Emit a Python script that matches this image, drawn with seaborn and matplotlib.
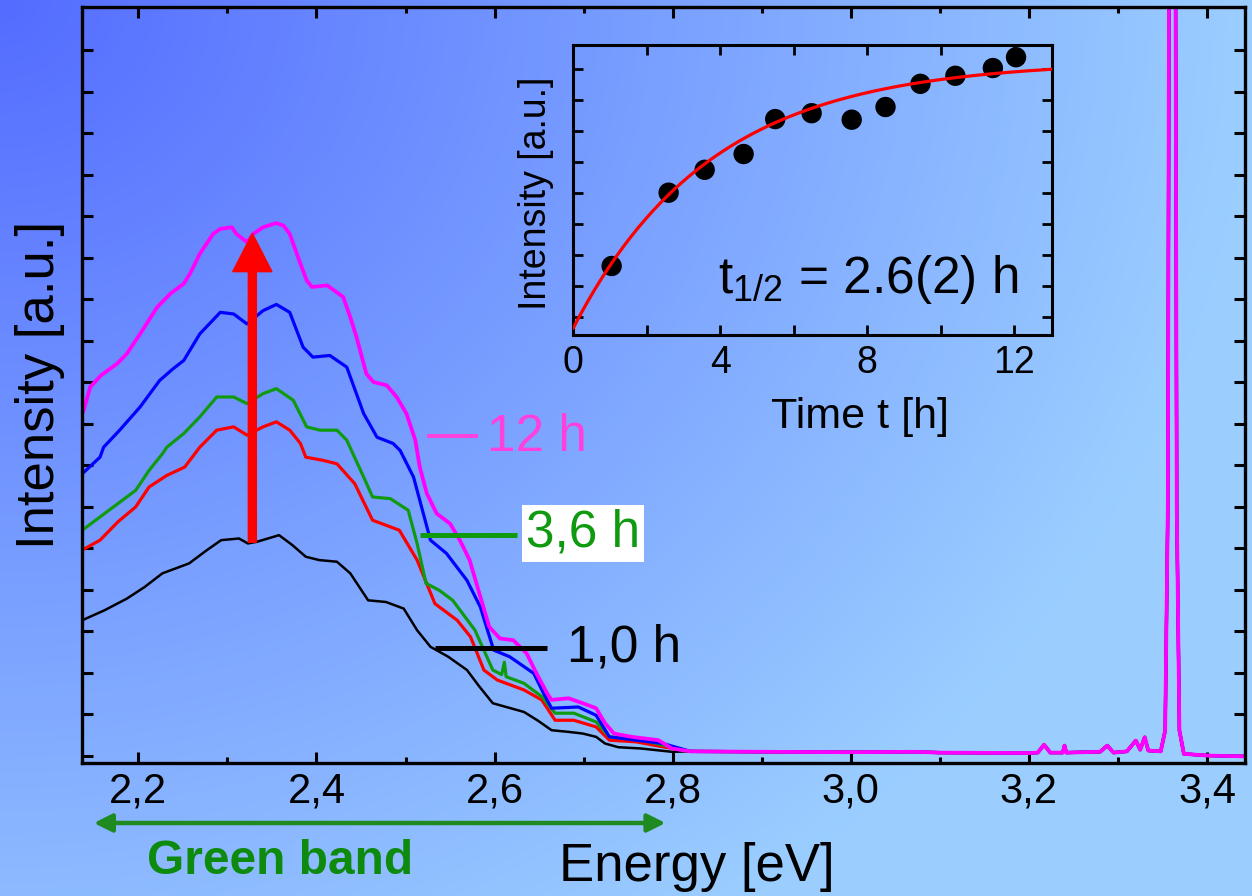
import numpy as np
import matplotlib
matplotlib.use("Agg")
import matplotlib.pyplot as plt
import matplotlib.transforms as mtransforms
from matplotlib.ticker import MultipleLocator
import seaborn as sns

# ---- photoluminescence spectra (energy in eV, intensity in arbitrary units) ----
black_e = [2.137, 2.162, 2.187, 2.207, 2.227, 2.257, 2.277, 2.293, 2.313, 2.323, 2.333,
           2.358, 2.373, 2.388, 2.403, 2.423, 2.438, 2.458, 2.478, 2.498, 2.513, 2.528,
           2.548, 2.569, 2.583, 2.598, 2.613, 2.633, 2.648, 2.664, 2.683, 2.699, 2.714,
           2.724, 2.739, 2.764, 2.799]
black_i = [3.26, 3.50, 3.78, 4.06, 4.39, 4.63, 4.95, 5.19, 5.23, 5.11, 5.15,
           5.31, 5.07, 4.79, 4.71, 4.67, 4.39, 3.74, 3.70, 3.54, 3.02, 2.62,
           2.38, 2.06, 1.66, 1.26, 1.17, 1.05, 0.85, 0.61, 0.57, 0.53, 0.45,
           0.29, 0.20, 0.17, 0.09]

red_e = [2.137, 2.157, 2.177, 2.197, 2.212, 2.232, 2.252, 2.269, 2.288, 2.307, 2.322,
         2.340, 2.355, 2.370, 2.382, 2.388, 2.408, 2.423, 2.443, 2.463, 2.478, 2.493,
         2.513, 2.533, 2.558, 2.573, 2.588, 2.603, 2.633, 2.653, 2.668, 2.689, 2.714,
         2.729, 2.759, 2.789]
red_i = [4.95, 5.19, 5.63, 5.99, 6.47, 6.75, 6.95, 7.43, 7.84, 7.92, 7.72,
         7.92, 8.04, 7.84, 7.52, 7.19, 7.11, 7.03, 6.55, 5.67, 5.55, 5.43,
         4.71, 3.66, 3.26, 2.86, 2.06, 1.82, 1.58, 1.34, 0.85, 0.85, 0.69,
         0.37, 0.33, 0.21]

green_e = [2.137, 2.157, 2.177, 2.197, 2.212, 2.227, 2.232, 2.251, 2.269, 2.288, 2.307,
           2.322, 2.340, 2.355, 2.374, 2.389, 2.404, 2.423, 2.434, 2.453, 2.463, 2.483,
           2.503, 2.513, 2.523, 2.538, 2.553, 2.578, 2.598, 2.608, 2.611, 2.613, 2.633,
           2.653, 2.668, 2.689, 2.714, 2.729, 2.759, 2.789]
green_i = [5.43, 5.75, 6.07, 6.39, 6.87, 7.27, 7.43, 7.76, 8.16, 8.64, 8.64,
           8.48, 8.72, 8.84, 8.56, 7.92, 7.84, 7.84, 7.60, 6.71, 6.23, 6.19,
           5.91, 5.11, 4.15, 3.98, 3.74, 3.02, 2.06, 1.95, 2.25, 1.90, 1.74,
           1.42, 1.02, 1.02, 0.81, 0.45, 0.41, 0.25]

blue_e = [2.137, 2.157, 2.161, 2.179, 2.202, 2.224, 2.239, 2.251, 2.269, 2.292, 2.307,
          2.322, 2.340, 2.355, 2.370, 2.385, 2.396, 2.415, 2.434, 2.453, 2.468, 2.486,
          2.494, 2.509, 2.528, 2.546, 2.569, 2.584, 2.599, 2.617, 2.644, 2.655, 2.664,
          2.694, 2.714, 2.729, 2.759, 2.789]
blue_i = [6.79, 7.19, 7.43, 7.84, 8.40, 9.04, 9.32, 9.52, 10.16, 10.68, 10.64,
          10.40, 10.72, 10.87, 10.68, 9.84, 9.60, 9.64, 9.36, 8.24, 7.67, 7.52,
          7.35, 6.71, 5.19, 4.87, 4.22, 3.58, 2.54, 2.38, 1.98, 1.50, 1.14,
          1.17, 0.97, 0.45, 0.37, 0.29]

magenta_e = [2.138, 2.146, 2.158, 2.176, 2.187, 2.202, 2.221, 2.236, 2.251, 2.258, 2.269,
             2.284, 2.292, 2.305, 2.310, 2.322, 2.329, 2.340, 2.355, 2.363, 2.370, 2.382,
             2.389, 2.395, 2.412, 2.430, 2.438, 2.445, 2.456, 2.464, 2.479, 2.490, 2.501,
             2.511, 2.516, 2.524, 2.535, 2.550, 2.561, 2.572, 2.583, 2.594, 2.606, 2.621,
             2.636, 2.647, 2.659, 2.664, 2.683, 2.699, 2.714, 2.724, 2.734, 2.754, 2.784,
             2.799]
magenta_i = [8.28, 8.88, 9.16, 9.44, 9.68, 10.16, 10.80, 11.13, 11.37, 11.61, 12.09,
             12.57, 12.69, 12.73, 12.57, 12.37, 12.57, 12.73, 12.83, 12.77, 12.57, 11.85,
             11.45, 11.29, 11.33, 11.05, 10.56, 10.08, 9.20, 9.00, 8.92, 8.64, 8.24,
             7.60, 6.95, 6.31, 5.83, 5.59, 5.19, 4.71, 3.90, 3.10, 2.82, 2.78,
             2.46, 1.98, 1.50, 1.34, 1.38, 1.26, 1.14, 0.78, 0.53, 0.45, 0.37,
             0.17]

# common high-energy part: flat background, weak lines and the band-edge peak
tail_e = [2.820, 2.900, 3.000, 3.070, 3.100, 3.200, 3.210, 3.217, 3.224, 3.238, 3.240,
          3.242, 3.280, 3.288, 3.295, 3.310, 3.320, 3.325, 3.330, 3.334, 3.348, 3.353,
          3.356, 3.358, 3.364, 3.366, 3.369, 3.374, 3.400, 3.443]
tail_i = [0.10, 0.09, 0.08, 0.09, 0.07, 0.06, 0.07, 0.26, 0.07, 0.07, 0.24,
          0.07, 0.09, 0.24, 0.07, 0.10, 0.36, 0.14, 0.44, 0.12, 0.10, 0.60,
          6.0, 25.0, 25.0, 6.0, 0.6, 0.04, 0.00, -0.02]

series_names = ["1,0 h", "red", "3,6 h", "blue", "12 h"]
series_colors = ["#000000", "#ff0000", "#109a10", "#0000ff", "#ff00ff"]
series_widths = [1.8, 2.3, 2.3, 2.3, 2.7]

# ---- growth of the green-band intensity with time ----
time_h = [1.05, 2.60, 3.58, 4.64, 5.50, 6.49, 7.58, 8.50, 9.45, 10.40, 11.42, 12.05]
band_int = [2.64, 5.01, 5.75, 6.26, 7.39, 7.58, 7.37, 7.78, 8.53, 8.79, 9.04, 9.39]
t_half = 2.6
fit_i0 = 0.62
fit_inf = 9.27

xtick_vals = [2.2, 2.4, 2.6, 2.8, 3.0, 3.2, 3.4]
xtick_labels = ["2,2", "2,4", "2,6", "2,8", "3,0", "3,2", "3,4"]
inset_xticks = [0, 4, 8, 12]

# ---------------------------------------------------------------------------
sns.set_style("ticks")
plt.rcParams["font.family"] = ["Liberation Sans", "DejaVu Sans"]
plt.rcParams["mathtext.fontset"] = "custom"
plt.rcParams["mathtext.rm"] = "Liberation Sans"
plt.rcParams["mathtext.it"] = "Liberation Sans:italic"
plt.rcParams["axes.edgecolor"] = "black"

W, H = 1252, 896
fig = plt.figure(figsize=(W / 100, H / 100), dpi=100)
fig.patch.set_facecolor("none")

# blue background gradient, darkest in the upper left corner
bg = fig.add_axes([0, 0, 1, 1], zorder=-5)
yy, xx = np.mgrid[0:H, 0:W]
tt = np.clip(np.sqrt((xx / W) ** 2 + (0.8 * yy / H) ** 2), 0, 1)[..., None]
dark = np.array([84, 108, 255]) / 255
light = np.array([155, 206, 255]) / 255
bg.imshow(dark + (light - dark) * tt, aspect="auto", interpolation="bilinear")
bg.axis("off")

# ---- main spectrum panel ----
ax = fig.add_axes([0.06526, 0.14844, 0.92891, 0.84342])
ax.set_facecolor("none")

spectra = [(black_e, black_i), (red_e, red_i), (green_e, green_i),
           (blue_e, blue_i), (magenta_e, magenta_i)]
for (e, i), col, lw in zip(spectra, series_colors, series_widths):
    sns.lineplot(x=list(e) + tail_e, y=list(i) + tail_i, color=col, lw=lw,
                 sort=False, estimator=None, ax=ax, legend=False)

ax.set_xlim(2.1364, 3.4423)
ax.set_ylim(-0.18, 18.03)
ax.set_xticks(xtick_vals)
ax.set_xticklabels(xtick_labels)
ax.xaxis.set_minor_locator(MultipleLocator(0.1))
ax.set_yticks(np.arange(0, 18))
ax.set_yticklabels([])
ax.tick_params(which="both", direction="in", top=True, right=True, width=2.2, color="black")
ax.tick_params(which="major", length=8, labelsize=30, pad=6, labelcolor="black")
ax.tick_params(which="minor", length=4.5)
for s in ax.spines.values():
    s.set_linewidth(2.4)
    s.set_color("black")

ax.set_xlabel("Energy [eV]", fontsize=38, color="black")
ax.xaxis.set_label_coords(0.529, -0.104)
ax.set_ylabel("Intensity [a.u.]", fontsize=38, color="black")
ax.yaxis.set_label_coords(-0.0144, 0.5)

# time labels with short leader lines
ax.plot([2.5243, 2.5816], [7.70, 7.70], color="#ff40dc", lw=2.8, solid_capstyle="butt")
ax.text(2.5915, 7.35, "12 h", color="#ff40dc", fontsize=37, va="baseline", ha="left")
ax.plot([2.5162, 2.6251], [5.31, 5.31], color="#109a10", lw=3.6, solid_capstyle="butt")
ax.text(2.6353, 5.03, "3,6 h", color="#109a10", fontsize=37, va="baseline", ha="left",
        bbox=dict(boxstyle="square,pad=0.08", facecolor="white", edgecolor="none"))
ax.plot([2.5330, 2.6587], [2.59, 2.59], color="black", lw=3.6, solid_capstyle="butt")
ax.text(2.681, 2.26, "1,0 h", color="black", fontsize=37, va="baseline", ha="left")

# rise of the green band from 1 h to 12 h
ax.arrow(2.328, 5.14, 0, 12.58 - 5.14, width=0.009, head_width=0.044, head_length=0.92,
         length_includes_head=True, color="#ff0000", zorder=6)

# extent of the green band below the energy axis
blend = mtransforms.blended_transform_factory(ax.transData, ax.transAxes)
ax.annotate("", xy=(2.792, -0.0794), xytext=(2.150, -0.0794), xycoords=blend,
            textcoords=blend, annotation_clip=False,
            arrowprops=dict(arrowstyle="<|-|>", color="#1f8a1f", lw=3.2,
                            mutation_scale=27, shrinkA=0, shrinkB=0))
ax.text(2.359, -0.131, "Green band", transform=blend, fontsize=34.5, fontweight="bold",
        color="#0e8a0e", ha="center", va="center", clip_on=False)

# ---- inset: integrated green band intensity vs time ----
axin = fig.add_axes([0.4577, 0.6261, 0.3826, 0.3237])
axin.set_facecolor("none")
sns.scatterplot(x=time_h, y=band_int, s=215, color="black", edgecolor="none",
                ax=axin, zorder=3, legend=False)
t_fit = np.linspace(0, 13.03, 200)
i_fit = fit_inf - (fit_inf - fit_i0) * 2.0 ** (-t_fit / t_half)
sns.lineplot(x=t_fit, y=i_fit, color="#ff0000", lw=2.3, ax=axin, zorder=4, legend=False)

axin.set_xlim(0, 13.03)
axin.set_ylim(0.408, 9.786)
axin.set_xticks(inset_xticks)
axin.set_xticklabels([str(v) for v in inset_xticks])
axin.xaxis.set_minor_locator(MultipleLocator(2))
axin.set_yticks(np.arange(1, 10))
axin.set_yticklabels([])
axin.tick_params(which="both", direction="in", top=True, right=True, width=2.0,
                 length=7, color="black")
axin.tick_params(which="major", labelsize=27, pad=7, labelcolor="black")
for s in axin.spines.values():
    s.set_linewidth(2.2)
    s.set_color("black")
axin.set_xlabel("Time t [h]", fontsize=31, color="black")
axin.xaxis.set_label_coords(0.599, -0.212)
axin.set_ylabel("Intensity [a.u.]", fontsize=27, color="black")
axin.yaxis.set_label_coords(-0.040, 0.49)
axin.text(8.03, 1.757, r"t$_{\mathregular{1/2}}$ = 2.6(2) h", fontsize=37,
          ha="center", va="baseline", color="black")

fig.savefig("out.png", dpi=100)
